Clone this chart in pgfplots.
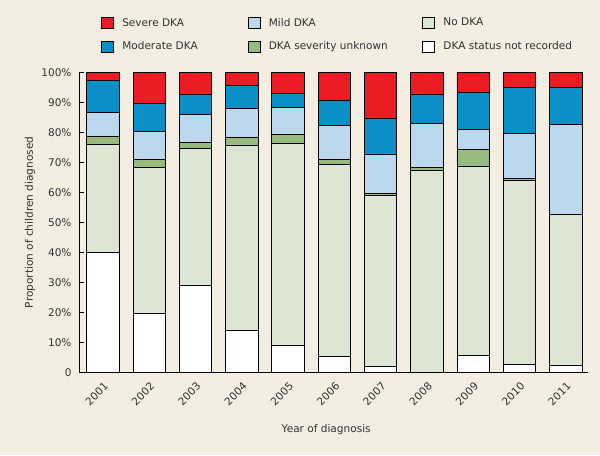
\documentclass[border=0pt]{standalone}
\usepackage{pgfplots}
\pgfplotsset{compat=1.18}
\usepackage{pgfplotstable}
\usepackage{fontspec}
\setmainfont{DejaVu Sans}
\definecolor{bg}{RGB}{244,238,226}
\definecolor{sev}{RGB}{236,28,36}
\definecolor{mod}{RGB}{10,143,198}
\definecolor{mild}{RGB}{188,216,238}
\definecolor{unk}{RGB}{150,187,124}
\definecolor{nodka}{RGB}{220,230,210}
\definecolor{txt}{RGB}{50,50,50}
\newcommand\f{\fontsize{7.9}{9.5}\selectfont}

\pgfplotstableread{
x nr no unk mild mod sev
0 40.0 36.1 2.7 7.9 10.7 2.6
1 19.7 48.7 2.6 9.3 9.4 10.3
2 29.0 45.7 2.1 9.1 6.8 7.3
3 13.9 61.9 2.6 9.7 7.6 4.3
4 8.9 67.3 3.0 9.0 4.8 7.0
5 5.2 64.2 1.6 11.2 8.5 9.3
6 1.9 57.2 0.7 13.0 11.9 15.3
7 0.0 67.2 1.1 14.7 9.7 7.3
8 5.7 63.0 5.6 6.7 12.3 6.7
9 2.7 61.2 0.8 15.0 15.2 5.1
10 2.3 50.4 0.0 30.0 12.2 5.1
}\data

\pgfplotsset{
  myleg/.style={legend image code/.code={\draw[##1,draw=black,line width=0.5pt] (0pt,-4pt) rectangle (9pt,4pt); \path (15.5pt,0pt);}},
  seg/.style={draw=black, line width=0.5pt, fill=#1},
}

\begin{document}
\begin{tikzpicture}
\fill[bg] (0,0) rectangle (450pt,341.25pt);
\begin{axis}[
  at={(59.5pt,62pt)}, anchor=south west,
  scale only axis, width=381.75pt, height=225pt,
  ybar stacked, bar width=0.7,
  xmin=-0.51, xmax=10.49, ymin=0, ymax=100,
  axis x line*=bottom, axis y line*=left,
  axis line style={black, line width=0.75pt, -},
  xtick={0,...,10},
  xticklabels={2001,2002,2003,2004,2005,2006,2007,2008,2009,2010,2011},
  x tick style={draw=none},
  ytick={0,10,...,100},
  yticklabels={0,10\%,20\%,30\%,40\%,50\%,60\%,70\%,80\%,90\%,100\%},
  tick align=inside, major tick length=3.75pt,
  y tick style={black, line width=0.6pt},
  /pgf/number format/assume math mode=true,
  every tick label/.append style={font=\f, text=txt},
  xticklabel style={inner sep=0pt, xshift=2.6pt, yshift=-9pt, rotate=45, anchor=east},
  yticklabel style={inner sep=0pt, xshift=-5.7pt},
  xlabel={Year of diagnosis},
  ylabel={Proportion of children diagnosed},
  label style={font=\f, text=txt},
  xlabel style={at={(axis description cs:0.485,-0.192)}, anchor=center},
  ylabel style={at={(axis description cs:-0.097,0.5)}, anchor=center},
  legend columns=3, legend cell align=left,
  legend style={at={(0.0426,1.183)}, anchor=north west, draw=none, fill=none,
    inner sep=0pt, outer sep=0pt, column sep=0pt, row sep=9.25pt,
    nodes={inner sep=0pt, outer sep=0pt, text=txt, font=\f}},
]
\addlegendimage{myleg, fill=sev}\addlegendentry{\makebox[94pt][l]{Severe DKA}}
\addlegendimage{myleg, fill=mild}\addlegendentry{\makebox[115pt][l]{Mild DKA}}
\addlegendimage{myleg, fill=nodka}\addlegendentry{No DKA}
\addlegendimage{myleg, fill=mod}\addlegendentry{\makebox[94pt][l]{Moderate DKA}}
\addlegendimage{myleg, fill=unk}\addlegendentry{\makebox[115pt][l]{DKA severity unknown}}
\addlegendimage{myleg, fill=white}\addlegendentry{DKA status not recorded}

\addplot[seg=white, forget plot] table[x=x, y=nr]{\data};
\addplot[seg=nodka, forget plot] table[x=x, y=no]{\data};
\addplot[seg=unk, forget plot] table[x=x, y=unk]{\data};
\addplot[seg=mild, forget plot] table[x=x, y=mild]{\data};
\addplot[seg=mod, forget plot] table[x=x, y=mod]{\data};
\addplot[seg=sev, forget plot] table[x=x, y=sev]{\data};
\end{axis}
\pgfresetboundingbox
\useasboundingbox (0,0) rectangle (450pt,341.25pt);
\end{tikzpicture}
\end{document}
